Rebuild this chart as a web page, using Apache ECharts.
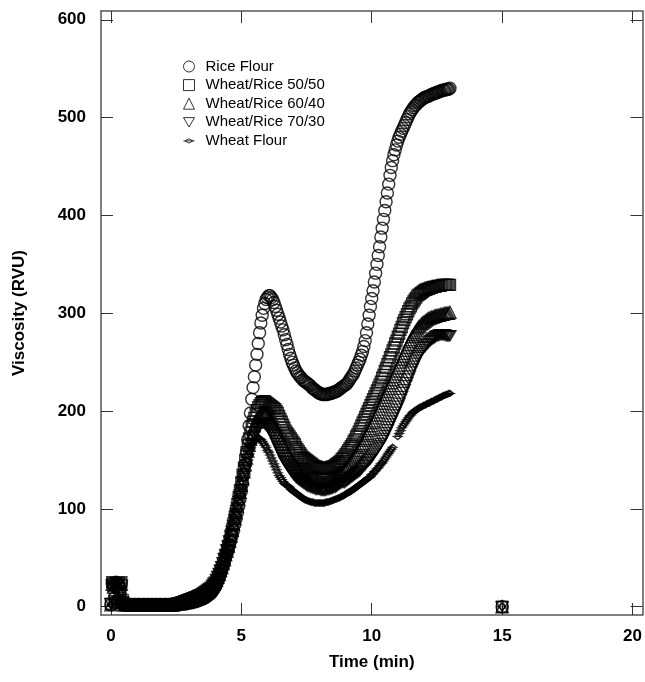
<!DOCTYPE html>
<html>
<head>
<meta charset="utf-8">
<script src="https://cdn.jsdelivr.net/npm/echarts@6/dist/echarts.min.js"></script>
<style>
html,body{margin:0;padding:0;background:#fff;}
#chart{width:645px;height:682px;}
</style>
</head>
<body>
<div id="chart"></div>
<script>
// Sampling grid: every 0.05 min from 0 to 13 min (261 samples) + one stray reading at 15 min
const STEP = 0.05;
const N = 261;
const time = Array.from({length: N}, (_, i) => +(i * STEP).toFixed(2));
const strayPoint = [15, 0];

const xTicks = [0, 5, 10, 15, 20];
const yTicks = [0, 100, 200, 300, 400, 500, 600];

const seriesNames = ['Rice Flour', 'Wheat/Rice 50/50', 'Wheat/Rice 60/40', 'Wheat/Rice 70/30', 'Wheat Flour'];

// Viscosity (RVU), one row per minute (20 samples), last value at 13.00 min
const riceFlour = [
  2,24,22,9,25,5,23,14,24,6,3,2,2,2,2,2,2,2,2,2,
  2,2,2,2,2,2,2,2,2,2,2,2,2,2,2,2,2,2,2,2,
  2,2,2,2,2,2,2,2,2,2,2,2,2,3,3,3,3,3,3,4,
  4,4,4,5,5,5,6,6,7,7,8,8,9,10,11,12,13,14,16,18,
  20,23,26,29,33,37,41,45,50,54,58,63,68,73,78,84,90,96,103,110,
  118,126,135,146,158,171,185,198,212,224,235,247,258,269,280,290,298,305,310,314,
  316,318,318,316,314,311,307,303,299,295,291,287,283,278,273,268,263,258,254,250,
  247,244,241,239,237,235,234,232,231,230,229,228,227,226,224,223,222,221,220,219,
  218,218,217,217,217,217,217,218,218,218,219,219,220,220,221,222,223,224,225,226,
  227,228,230,232,234,236,238,241,244,247,250,253,257,261,266,272,280,289,298,307,
  315,323,332,341,350,359,368,378,387,396,405,414,423,432,441,449,456,462,467,472,
  476,480,483,486,489,492,495,498,501,504,506,508,510,512,513,515,516,517,518,519,
  520,521,521,522,522,523,524,524,525,525,526,526,527,527,528,528,528,529,529,529,
  530
];
const wheatRice5050 = [
  3,25,21,8,24,4,22,15,25,7,3,2,2,2,2,2,2,2,2,2,
  2,2,2,2,2,2,2,2,2,2,2,2,2,2,2,2,2,2,2,2,
  2,2,2,2,2,2,2,2,2,2,3,3,3,3,4,4,4,5,5,5,
  6,6,7,7,8,8,9,9,10,11,12,13,14,15,16,17,18,19,21,22,
  24,27,30,33,37,40,44,49,53,58,62,67,73,79,85,92,98,105,112,119,
  127,135,142,150,158,165,172,178,184,189,193,197,201,204,206,208,209,210,210,209,
  208,207,206,205,204,203,202,200,198,195,192,189,186,183,180,178,176,174,172,170,
  168,166,163,161,159,157,155,153,152,151,150,149,148,147,146,145,144,143,143,142,
  142,141,141,141,141,141,141,142,142,143,143,144,145,146,147,148,149,151,152,154,
  156,158,160,162,164,166,169,171,174,176,179,182,185,188,191,194,197,200,203,206,
  209,212,215,218,221,224,227,230,234,237,241,244,248,251,255,258,262,265,269,272,
  276,279,283,286,290,293,296,299,302,305,307,310,312,314,316,318,319,320,321,322,
  323,324,324,325,325,326,326,327,327,327,328,328,328,328,329,329,329,329,329,329,
  329
];
const wheatRice6040 = [
  2,23,20,7,23,5,21,13,23,6,2,2,2,2,2,2,2,2,2,2,
  2,2,2,2,2,2,2,2,2,2,2,2,2,2,2,2,2,2,2,2,
  2,2,2,2,2,2,2,2,2,3,3,3,3,4,4,4,5,5,5,6,
  6,7,7,8,8,9,9,10,11,11,12,13,14,15,16,17,18,20,21,23,
  25,27,30,33,37,40,44,48,53,57,62,67,72,78,84,90,96,103,110,117,
  124,131,138,145,152,159,165,171,176,181,185,189,192,194,196,197,198,198,197,196,
  195,193,192,190,188,186,184,181,178,175,172,169,166,163,160,157,155,153,151,149,
  147,145,143,142,140,139,138,137,136,135,134,133,132,132,131,131,130,130,129,129,
  129,128,128,128,128,128,129,129,129,130,130,131,132,133,134,135,136,137,138,140,
  141,143,144,146,148,150,152,154,156,158,160,163,165,167,170,172,175,177,180,182,
  185,188,190,193,196,199,202,205,208,211,214,217,220,223,226,229,232,235,238,241,
  244,247,250,253,256,259,262,265,268,271,273,276,278,280,282,284,286,287,289,290,
  291,292,293,294,295,295,296,296,297,297,298,298,298,299,299,299,300,300,300,300,
  301
];
const wheatRice7030 = [
  3,22,24,6,22,6,24,12,22,5,2,2,2,2,2,2,2,2,2,2,
  2,2,2,2,2,2,2,2,2,2,2,2,2,2,2,2,2,2,2,2,
  2,2,2,2,2,2,2,2,3,3,3,3,4,4,4,5,5,6,6,7,
  7,8,8,9,9,10,10,11,12,12,13,14,15,16,17,18,19,20,22,24,
  25,28,31,34,37,41,45,49,53,58,62,67,72,77,83,89,95,101,108,114,
  120,127,133,139,145,151,157,162,167,171,175,179,182,184,186,187,188,188,187,186,
  184,182,180,178,176,173,170,167,164,161,158,155,152,149,147,145,143,141,139,137,
  135,134,132,131,130,129,128,127,126,125,124,123,123,122,122,121,121,120,120,120,
  120,119,119,119,119,119,120,120,120,121,121,122,122,123,124,125,126,127,127,127,
  128,129,130,131,132,133,134,135,136,137,138,139,141,142,144,145,147,148,150,151,
  153,155,157,159,161,163,165,167,170,172,175,178,181,184,187,190,193,196,199,202,
  205,208,212,215,219,222,226,229,233,236,240,243,246,249,252,255,257,259,261,263,
  265,266,268,269,271,272,273,274,275,276,277,277,278,278,278,278,278,277,277,277,
  277
];
const wheatFlour = [
  2,24,23,8,21,4,25,14,22,7,3,2,2,2,2,2,2,2,2,2,
  2,2,2,2,2,2,2,2,2,2,2,2,2,2,2,2,2,3,3,3,
  3,3,3,3,4,4,4,5,5,6,7,7,8,8,9,9,10,10,11,11,
  12,12,13,13,14,14,15,15,16,16,17,17,18,18,19,20,21,22,23,24,
  26,28,31,34,38,42,47,52,57,63,68,74,80,86,92,98,104,110,116,122,
  128,134,140,145,150,155,159,163,166,168,170,171,172,172,172,171,169,167,165,163,
  160,158,155,152,149,146,143,140,137,134,132,130,128,126,125,124,123,122,120,119,
  118,117,116,115,114,113,112,111,110,109,109,108,108,107,107,107,106,106,106,106,
  106,106,106,106,106,107,107,107,108,108,109,109,110,110,111,111,112,113,113,114,
  115,116,117,117,118,119,120,121,122,123,124,125,126,127,128,129,130,131,132,133,
  135,136,138,139,141,142,144,146,147,149,151,153,155,157,159,161,163,null,null,null,
  174,177,180,183,185,187,189,191,193,195,196,198,199,200,201,202,203,204,204,205,
  206,206,207,208,208,209,210,210,211,212,212,213,214,214,215,216,216,217,217,218,
  218
];

const seriesValues = [riceFlour, wheatRice5050, wheatRice6040, wheatRice7030, wheatFlour];

const PATH_DOWN = 'path://M0,0L20,0L10,17Z';
const PATH_WHEAT = 'path://M0,5L3,5L10,1L17,5L20,5M17,5L10,9L3,5Z';
const seriesSymbols = [
  {symbol: 'circle', size: 12, legendIcon: 'circle'},
  {symbol: 'rect', size: 11, legendIcon: 'rect'},
  {symbol: 'triangle', size: 12, legendIcon: 'triangle'},
  {symbol: PATH_DOWN, size: [12, 10], legendIcon: PATH_DOWN},
  {symbol: PATH_WHEAT, size: [11, 6], legendIcon: PATH_WHEAT}
];

const FONT = '"Liberation Sans", Arial, Helvetica, sans-serif';
const AXIS_COLOR = '#555';

const chart = echarts.init(document.getElementById('chart'), null, {renderer: 'canvas'});

const series = seriesNames.map((name, k) => {
  const vals = seriesValues[k];
  const data = time.map((t, i) => [t, vals[i]]);
  data.push(strayPoint.slice());
  return {
    name: name,
    type: 'scatter',
    data: data,
    symbol: seriesSymbols[k].symbol,
    symbolSize: seriesSymbols[k].size,
    itemStyle: {color: 'rgba(0,0,0,0)', borderColor: '#000', borderWidth: 1.4},
    emphasis: {disabled: true},
    animation: false
  };
});

const axisCommon = {
  type: 'value',
  splitLine: {show: false},
  axisLine: {show: true, onZero: false, lineStyle: {color: AXIS_COLOR, width: 1.5}},
  axisTick: {show: true, inside: true, length: 12, lineStyle: {color: '#333', width: 1}}
};

const option = {
  backgroundColor: '#fff',
  animation: false,
  grid: {left: 101, right: 2, top: 11, bottom: 67, containLabel: false},
  legend: {
    orient: 'vertical',
    left: 178,
    top: 54,
    itemWidth: 11,
    itemHeight: 11,
    itemGap: 3.6,
    textStyle: {fontFamily: FONT, fontSize: 15, color: '#000', padding: [0, 0, 0, 6]},
    itemStyle: {borderWidth: 1},
    data: seriesNames.map((n, k) => ({name: n, icon: seriesSymbols[k].legendIcon}))
  },
  xAxis: [
    Object.assign({}, axisCommon, {
      position: 'bottom',
      min: -0.38, max: 20.38,
      name: 'Time (min)',
      nameLocation: 'middle',
      nameGap: 39,
      nameTextStyle: {fontFamily: FONT, fontSize: 17, fontWeight: 'bold', color: '#000'},
      axisTick: Object.assign({}, axisCommon.axisTick, {customValues: xTicks}),
      axisLabel: {show: true, customValues: xTicks, margin: 13, fontFamily: FONT, fontSize: 17, fontWeight: 'bold', color: '#000'}
    }),
    Object.assign({}, axisCommon, {
      position: 'top',
      min: -0.38, max: 20.38,
      axisTick: Object.assign({}, axisCommon.axisTick, {customValues: xTicks}),
      axisLabel: {show: false}
    })
  ],
  yAxis: [
    Object.assign({}, axisCommon, {
      position: 'left',
      min: -8.5, max: 609,
      name: 'Viscosity (RVU)',
      nameLocation: 'middle',
      nameGap: 73,
      nameRotate: 90,
      nameTextStyle: {fontFamily: FONT, fontSize: 17, fontWeight: 'bold', color: '#000'},
      axisTick: Object.assign({}, axisCommon.axisTick, {customValues: yTicks}),
      axisLabel: {show: true, customValues: yTicks, margin: 15, fontFamily: FONT, fontSize: 17, fontWeight: 'bold', color: '#000'}
    }),
    Object.assign({}, axisCommon, {
      position: 'right',
      min: -8.5, max: 609,
      axisTick: Object.assign({}, axisCommon.axisTick, {customValues: yTicks}),
      axisLabel: {show: false}
    })
  ],
  series: series
};

chart.setOption(option);
</script>
</body>
</html>
